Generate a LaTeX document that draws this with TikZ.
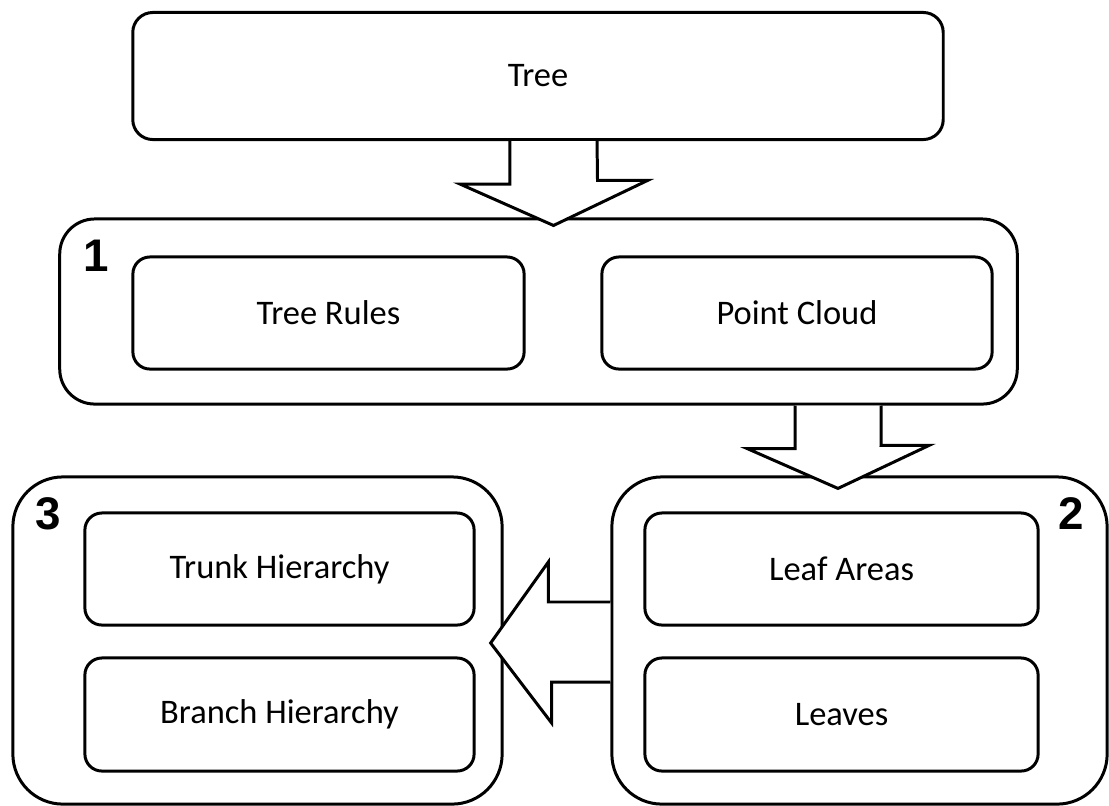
\documentclass[tikz,border=0pt]{standalone}
\usepackage{fontspec}
\setmainfont{Carlito}
\newfontfamily\numfont{Liberation Sans}
\usepackage{tikz}

\begin{document}
\begin{tikzpicture}[x=0.01cm,y=-0.01cm,
	box/.style={draw,line width=0.85pt,inner sep=0pt,align=center,font=\fontsize{9.8}{12}\selectfont},
	stage/.style={draw,line width=0.85pt,inner sep=0pt},
	inner/.style={box,rounded corners=0.17cm,minimum width=3.91cm,minimum height=1.12cm},
	numlabel/.style={inner sep=0pt,font=\numfont\bfseries\fontsize{13}{13}\selectfont},
	blockarrow/.style={draw,fill=white,line width=0.85pt,line join=miter}]
	\useasboundingbox (0,0) rectangle (1109,805);
	%
	\node[box,rounded corners=0.2cm,minimum width=8.10cm,minimum height=1.27cm] (tree) at (538,76) {Tree};
	\node[stage,rounded corners=0.35cm,minimum width=9.57cm,minimum height=1.85cm] (stageone) at (538.5,311.5) {};
	\node[stage,rounded corners=0.5cm,minimum width=4.95cm,minimum height=3.27cm] (stagetwo) at (859.5,640.5) {};
	\node[stage,rounded corners=0.5cm,minimum width=4.89cm,minimum height=3.27cm] (stagethree) at (257.5,640.5) {};
	%
	\node[inner] (rules) at (328.5,313) {Tree Rules};
	\node[inner,minimum width=3.90cm] (cloud) at (797,313) {Point Cloud};
	\node[inner,minimum width=3.93cm] (leafareas) at (841.5,569) {Leaf Areas};
	\node[inner,minimum width=3.93cm,minimum height=1.13cm] (leaves) at (841.5,714.5) {Leaves};
	\node[inner,minimum width=3.89cm] (trunk) at (279.5,569) {Trunk Hierarchy};
	\node[inner,minimum width=3.89cm,minimum height=1.13cm] (branch) at (279.5,714.5) {Branch Hierarchy};
	%
	\node[numlabel] (one) at ([xshift=0.38cm,yshift=-0.38cm]stageone.north west) {1};
	\node[numlabel] (two) at ([xshift=-0.37cm,yshift=-0.38cm]stagetwo.north east) {2};
	\node[numlabel] (three) at ([xshift=0.37cm,yshift=-0.38cm]stagethree.north west) {3};
	%
	\draw[blockarrow] ([xshift=-0.28cm]tree.south) -- ++(0,43) -- ++(-50,0)
		-- ([xshift=0.15cm,yshift=-0.08cm]stageone.north) -- ++(94,-45) -- ++(-50,0)
		-- ([xshift=0.59cm]tree.south);
	\draw[blockarrow] ([xshift=2.565cm]stageone.south) -- ++(0,43) -- ++(-48,0)
		-- ([xshift=-0.215cm,yshift=-0.13cm]stagetwo.north) -- ++(91,-43) -- ++(-48,0)
		-- ([xshift=3.425cm]stageone.south);
	\draw[blockarrow] ([yshift=0.385cm]stagetwo.west) -- ++(-62,0) -- ++(0,-40)
		-- ([xshift=-0.13cm,yshift=-0.025cm]stagethree.east) -- ++(61,80) -- ++(0,-41)
		-- ([yshift=-0.415cm]stagetwo.west);
\end{tikzpicture}
\end{document}
